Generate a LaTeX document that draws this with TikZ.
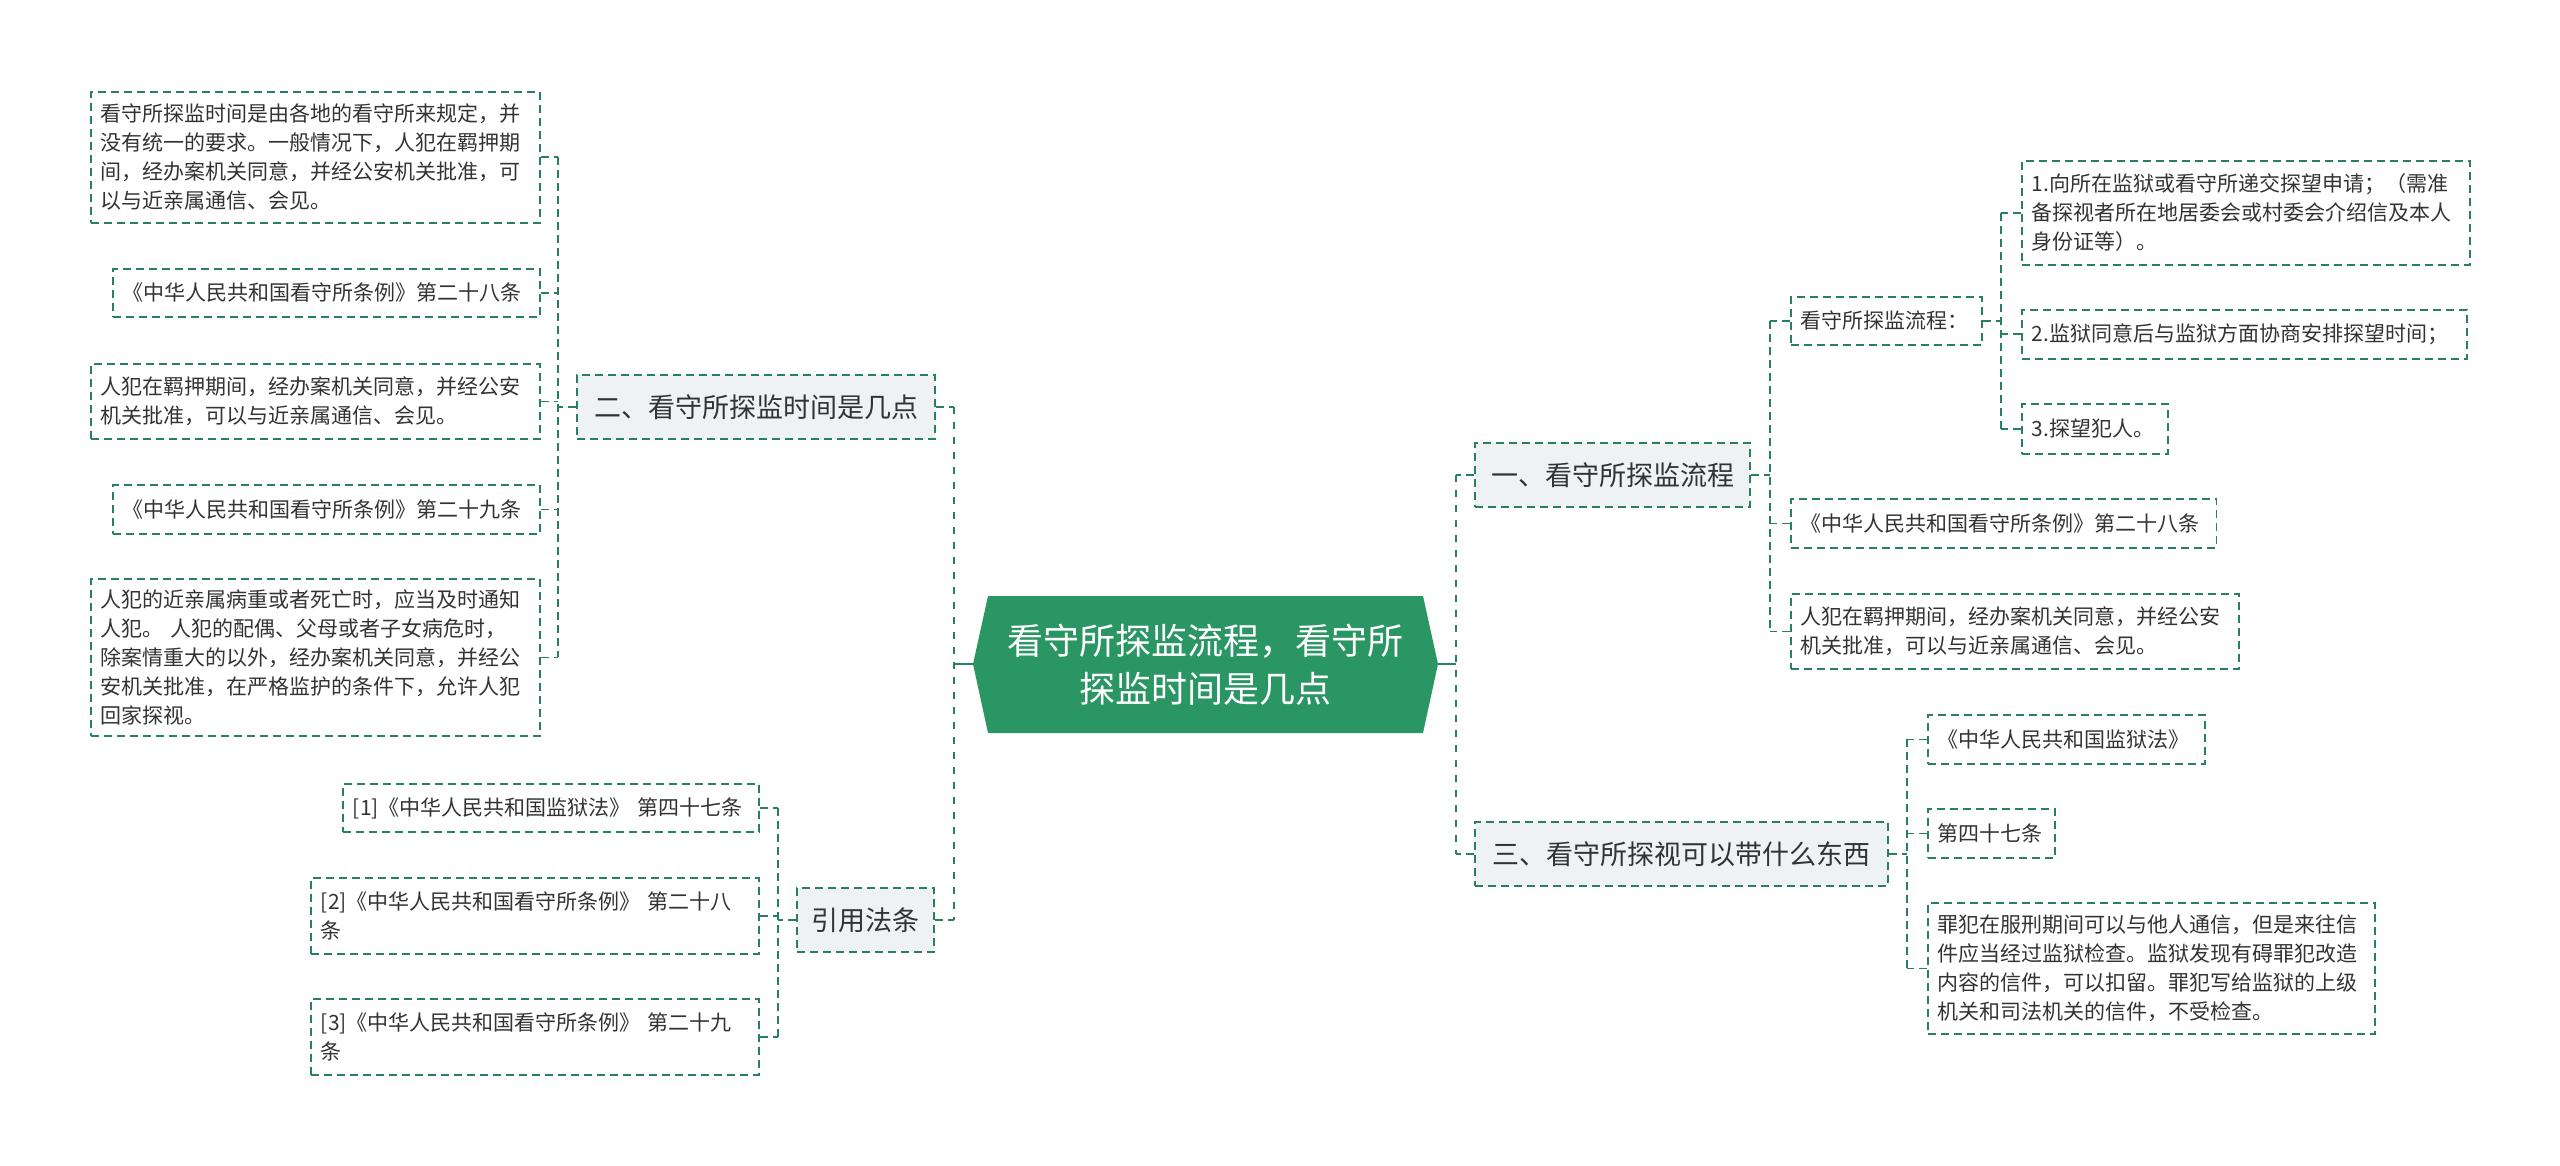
\documentclass[tikz,border=0pt]{standalone}
\usepackage{fontspec}
\setmainfont{Noto Sans CJK SC}
\usepackage{tikz}
\usetikzlibrary{calc}
\definecolor{linegreen}{RGB}{40,128,92}
\definecolor{rootgreen}{RGB}{42,150,100}
\definecolor{branchgray}{RGB}{238,242,245}
\definecolor{textgray}{RGB}{51,51,51}

\begin{document}
\begin{tikzpicture}[x=0.5pt, y=-0.5pt,
    leaf/.style={draw=linegreen, line width=0.9pt, dash pattern=on 4pt off 2.5pt,
        anchor=north west, align=left, inner xsep=5pt, inner ysep=0pt,
        text=textgray, font=\fontsize{10.5}{14.5}\selectfont},
    branch/.style={draw=linegreen, fill=branchgray, line width=0.9pt,
        dash pattern=on 4pt off 2.5pt, inner sep=0pt, minimum height=32pt,
        text=textgray, font=\fontsize{13.5}{16}\selectfont},
    link/.style={linegreen, line width=0.9pt, dash pattern=on 4pt off 2.5pt},
    trunk/.style={linegreen, line width=1.25pt, dash pattern=on 3.5pt off 4pt}]
    \useasboundingbox (0,0) rectangle (2560,1166);

    % Root
    \fill[rootgreen] (973,664) -- (988,596) -- (1423,596) -- (1438,664)
        -- (1423,733) -- (988,733) -- cycle;
    \node[align=center, text=white, font=\fontsize{18}{24}\selectfont] (root) at (1205.5,665)
        {看守所探监流程，看守所\\探监时间是几点};
    \coordinate (rootL) at (973,664);
    \coordinate (rootR) at (1438,664);

    % Branches
    \node[branch, minimum width=179pt] (b2) at (756,407) {二、看守所探监时间是几点};
    \node[branch, minimum width=68.5pt] (b4) at (865.5,920) {引用法条};
    \node[branch, minimum width=137.5pt] (b1) at (1612.5,475) {一、看守所探监流程};
    \node[branch, minimum width=206.5pt] (b3) at (1681.5,854) {三、看守所探视可以带什么东西};

    % Leaves of b2
    \node[leaf, text width=214.5pt, minimum height=65.5pt] (l1) at (90,91)
        {看守所探监时间是由各地的看守所来规定，并\\没有统一的要求。一般情况下，人犯在羁押期\\间，经办案机关同意，并经公安机关批准，可\\以与近亲属通信、会见。};
    \node[leaf, text width=203.5pt, minimum height=24pt] (l2) at (112,268)
        {《中华人民共和国看守所条例》第二十八条};
    \node[leaf, text width=214.5pt, minimum height=37.5pt] (l3) at (90,363)
        {人犯在羁押期间，经办案机关同意，并经公安\\机关批准，可以与近亲属通信、会见。};
    \node[leaf, text width=203.5pt, minimum height=24.5pt] (l4) at (112,484)
        {《中华人民共和国看守所条例》第二十九条};
    \node[leaf, text width=214.5pt, minimum height=78.5pt] (l5) at (90,578)
        {人犯的近亲属病重或者死亡时，应当及时通知\\人犯。~人犯的配偶、父母或者子女病危时，\\除案情重大的以外，经办案机关同意，并经公\\安机关批准，在严格监护的条件下，允许人犯\\回家探视。};

    % Leaves of b4
    \node[leaf, text width=198pt, minimum height=24pt] (r1) at (342,783)
        {[1]《中华人民共和国监狱法》~第四十七条};
    \node[leaf, text width=214pt, minimum height=38pt] (r2) at (310,877)
        {[2]《中华人民共和国看守所条例》~第二十八\\条};
    \node[leaf, text width=214pt, minimum height=38pt] (r3) at (310,998)
        {[3]《中华人民共和国看守所条例》~第二十九\\条};

    % Leaves of b1
    \node[leaf, text width=85.5pt, minimum height=24pt] (s1) at (1790,296) {看守所探监流程：};
    \node[leaf, text width=202.75pt, minimum height=24.5pt] (s2) at (1790,498)
        {《中华人民共和国看守所条例》第二十八条};
    \node[leaf, text width=214pt, minimum height=37.5pt] (s3) at (1790,593)
        {人犯在羁押期间，经办案机关同意，并经公安\\机关批准，可以与近亲属通信、会见。};
    \node[leaf, text width=214pt, minimum height=52pt] (t1) at (2021,160)
        {1.向所在监狱或看守所递交探望申请；（需准\\备探视者所在地居委会或村委会介绍信及本人\\身份证等）。};
    \node[leaf, text width=212.5pt, minimum height=24.5pt] (t2) at (2021,309)
        {2.监狱同意后与监狱方面协商安排探望时间；};
    \node[leaf, text width=63pt, minimum height=25pt] (t3) at (2021,403) {3.探望犯人。};

    % Leaves of b3
    \node[leaf, text width=128.5pt, minimum height=24.5pt] (u1) at (1927,714) {《中华人民共和国监狱法》};
    \node[leaf, text width=53.5pt, minimum height=24.5pt] (u2) at (1927,808) {第四十七条};
    \node[leaf, text width=213.5pt, minimum height=65.5pt] (u3) at (1927,902)
        {罪犯在服刑期间可以与他人通信，但是来往信\\件应当经过监狱检查。监狱发现有碍罪犯改造\\内容的信件，可以扣留。罪犯写给监狱的上级\\机关和司法机关的信件，不受检查。};

    % Trunks
    \coordinate (lx) at (954,0);
    \coordinate (rx) at (1456,0);
    \draw[linegreen, line width=1.25pt] (rootL) -- (rootL -| lx);
    \draw[linegreen, line width=1.25pt] (rootR) -- (rootR -| rx);
    \draw[trunk] (b2.east -| lx) -- (b4.east -| lx);
    \draw[trunk] (b1.west -| rx) -- (b3.west -| rx);
    \draw[link] (b2.east) -- (b2.east -| lx);
    \draw[link] (b4.east) -- (b4.east -| lx);
    \draw[link] (b1.west) -- (b1.west -| rx);
    \draw[link] (b3.west) -- (b3.west -| rx);

    % Connectors b2
    \coordinate (ax) at (558,0);
    \draw[link] (b2.west) -- (b2.west -| ax);
    \draw[link] (l1.east -| ax) -- (l5.east -| ax);
    \draw[link] (l1.east) -- (l1.east -| ax);
    \draw[link] (l2.east) -- (l2.east -| ax);
    \draw[link] (l3.east) -- (l3.east -| ax);
    \draw[link] (l4.east) -- (l4.east -| ax);
    \draw[link] (l5.east) -- (l5.east -| ax);

    % Connectors b4
    \coordinate (bx) at (778,0);
    \draw[link] (b4.west) -- (b4.west -| bx);
    \draw[link] (r1.east -| bx) -- (r3.east -| bx);
    \draw[link] (r1.east) -- (r1.east -| bx);
    \draw[link] (r2.east) -- (r2.east -| bx);
    \draw[link] (r3.east) -- (r3.east -| bx);

    % Connectors b1
    \coordinate (cx) at (1770,0);
    \draw[link] (b1.east) -- (b1.east -| cx);
    \draw[link] (s1.west -| cx) -- (s3.west -| cx);
    \draw[link] (s1.west) -- (s1.west -| cx);
    \draw[link] (s2.west) -- (s2.west -| cx);
    \draw[link] (s3.west) -- (s3.west -| cx);

    % Connectors s1
    \coordinate (dx) at (2001,0);
    \draw[link] (s1.east) -- (s1.east -| dx);
    \draw[link] (t1.west -| dx) -- (t3.west -| dx);
    \draw[link] (t1.west) -- (t1.west -| dx);
    \draw[link] (t2.west) -- (t2.west -| dx);
    \draw[link] (t3.west) -- (t3.west -| dx);

    % Connectors b3
    \coordinate (ex) at (1907,0);
    \draw[link] (b3.east) -- (b3.east -| ex);
    \draw[link] (u1.west -| ex) -- (u3.west -| ex);
    \draw[link] (u1.west) -- (u1.west -| ex);
    \draw[link] (u2.west) -- (u2.west -| ex);
    \draw[link] (u3.west) -- (u3.west -| ex);
\end{tikzpicture}
\end{document}
